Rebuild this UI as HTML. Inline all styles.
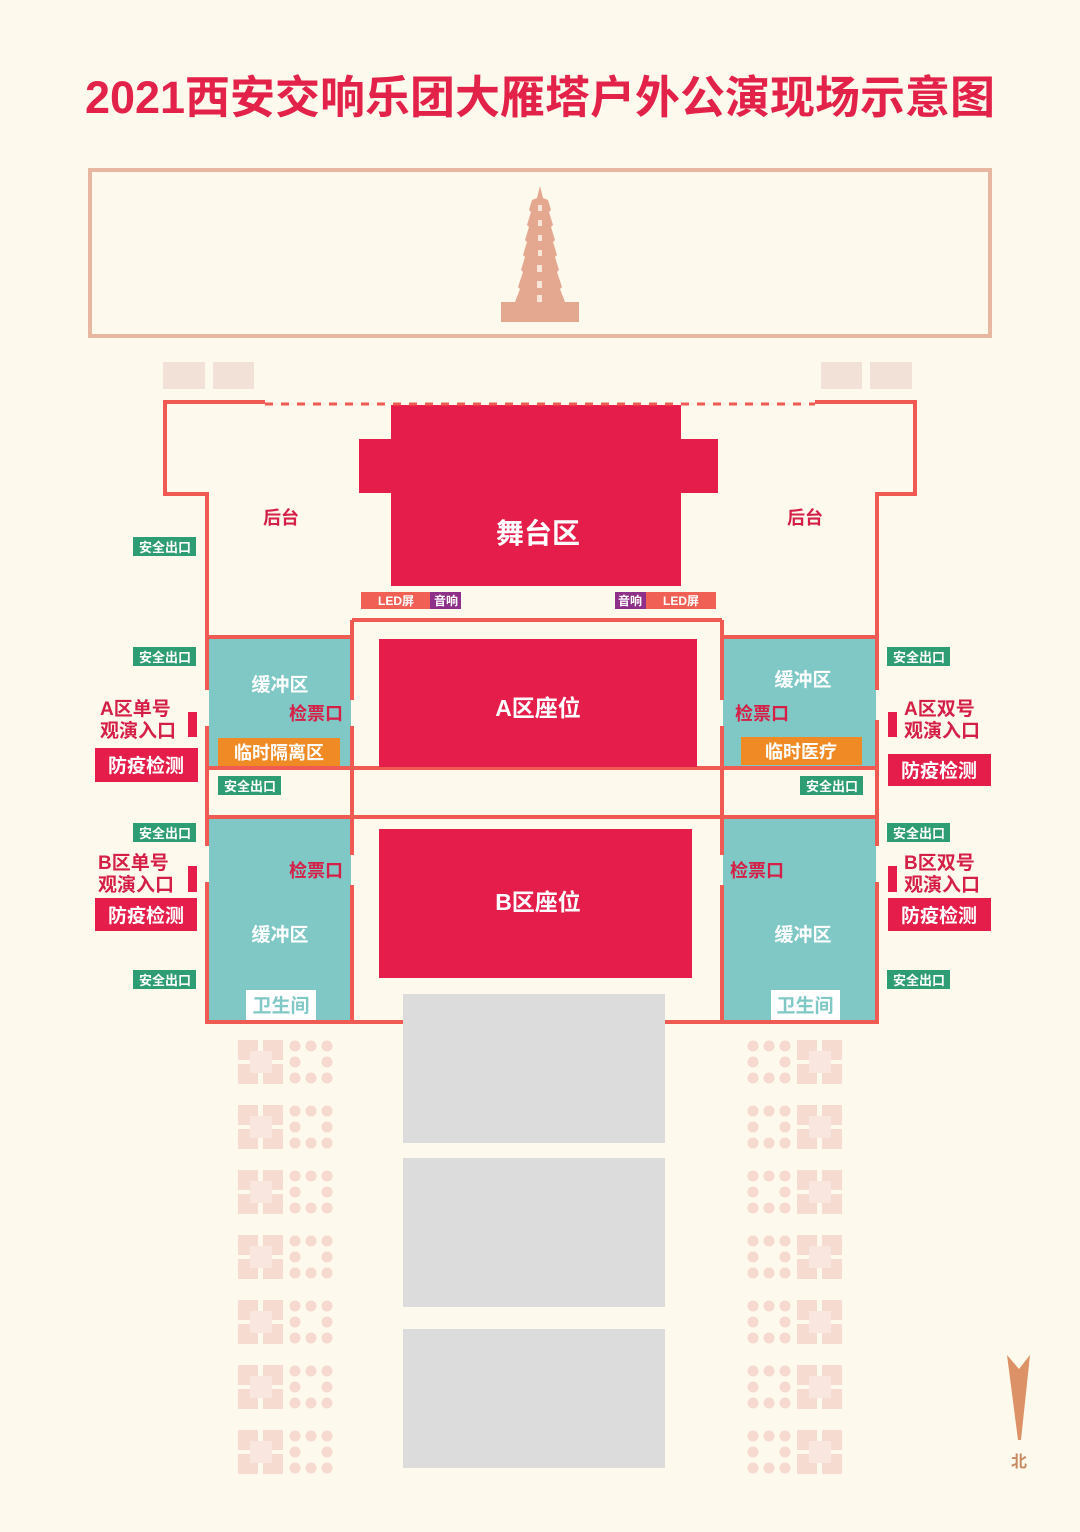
<!DOCTYPE html>
<html><head><meta charset="utf-8"><style>
html,body{margin:0;padding:0;background:#fdf9ec;}
svg text{font-family:"Liberation Sans","Noto Sans CJK SC",sans-serif;font-weight:bold;}
</style></head><body>
<svg width="1080" height="1527" viewBox="0 0 1080 1527" xmlns="http://www.w3.org/2000/svg">
<rect width="1080" height="1527" fill="#fdf9ec"/>
<defs>
<g id="sq"><rect x="0" y="0" width="20" height="20" fill="#f6dbd1"/><rect x="25" y="0" width="20" height="20" fill="#f6dbd1"/><rect x="0" y="24" width="20" height="20" fill="#f6dbd1"/><rect x="25" y="24" width="20" height="20" fill="#f6dbd1"/><rect x="12" y="11" width="22" height="22" fill="#f9e6df"/></g>
<g id="dt" fill="#f6d9cf"><circle cx="5" cy="5" r="5.5"/><circle cx="21" cy="5" r="5.5"/><circle cx="37" cy="5" r="5.5"/><circle cx="5" cy="21" r="5.5"/><circle cx="37" cy="21" r="5.5"/><circle cx="5" cy="37" r="5.5"/><circle cx="21" cy="37" r="5.5"/><circle cx="37" cy="37" r="5.5"/></g>
</defs>
<text x="540" y="113" font-size="45" fill="#e3224a" text-anchor="middle">2021西安交响乐团大雁塔户外公演现场示意图</text>
<rect x="90" y="170" width="900" height="166" fill="none" stroke="#e8b7a2" stroke-width="4"/>
<!-- pagoda -->
<g fill="#e3a88f">
<rect x="501" y="302" width="78" height="20"/>
<polygon points="540,186 543,198 548,200 551,210 549,212 553,225 551,227 555,240 553,242 557,255 555,257 559,270 557,272 562,287 560,289 565,302 515,302 520,289 518,287 523,272 521,270 525,257 523,255 527,242 525,240 529,227 527,225 531,212 529,210 532,200 537,198"/>
</g>
<g fill="#f7e6d8"><rect x="538" y="205" width="4" height="6"/><rect x="538" y="220" width="4" height="6"/><rect x="538" y="235" width="4" height="6"/><rect x="538" y="250" width="4" height="6"/><rect x="537" y="265" width="5" height="7"/><rect x="537" y="281" width="5" height="7"/><rect x="537" y="295" width="5" height="7"/></g>
<g fill="#f1e1d6"><rect x="163" y="362" width="42" height="27"/><rect x="213" y="362" width="41" height="27"/><rect x="821" y="362" width="41" height="27"/><rect x="870" y="362" width="42" height="27"/></g>
<!-- stage -->
<g fill="#e41d4a"><rect x="391" y="405" width="290" height="181"/><rect x="359" y="439" width="34" height="54"/><rect x="679" y="439" width="39" height="54"/></g>
<text x="538" y="543" font-size="28" fill="#fff" text-anchor="middle">舞台区</text>
<!-- teal areas -->
<g fill="#80c8c5"><rect x="209" y="639" width="142" height="129"/><rect x="209" y="819" width="142" height="202"/><rect x="723" y="639" width="153" height="129"/><rect x="723" y="819" width="153" height="202"/></g>
<!-- walls -->
<g stroke="#ef5b52" stroke-width="4" fill="none">
<polyline points="265,402 165,402 165,494 207,494 207,690"/>
<polyline points="207,726 207,846"/>
<polyline points="207,882 207,1022 877,1022 877,882"/>
<polyline points="877,846 877,720"/>
<polyline points="877,690 877,494 915,494 915,402 815,402"/>
<line x1="265" y1="404" x2="815" y2="404" stroke-dasharray="8,8" stroke-width="3"/>
<line x1="207" y1="637" x2="352" y2="637"/><line x1="722" y1="637" x2="877" y2="637"/>
<polyline points="352,620 722,620"/>
<line x1="352" y1="620" x2="352" y2="700"/><line x1="352" y1="726" x2="352" y2="855"/><line x1="352" y1="885" x2="352" y2="1022"/>
<line x1="722" y1="620" x2="722" y2="700"/><line x1="722" y1="726" x2="722" y2="855"/><line x1="722" y1="885" x2="722" y2="1022"/>
<line x1="207" y1="768" x2="877" y2="768"/><line x1="207" y1="817" x2="877" y2="817"/>
</g>
<!-- LED -->
<rect x="361" y="592" width="69" height="17" fill="#f06055"/><rect x="430" y="592" width="31" height="17" fill="#8e2f8a"/>
<rect x="615" y="592" width="31" height="17" fill="#8e2f8a"/><rect x="646" y="592" width="70" height="17" fill="#f06055"/>
<g font-size="12" fill="#fff" text-anchor="middle"><text x="396" y="605">LED屏</text><text x="446" y="605">音响</text><text x="630" y="605">音响</text><text x="681" y="605">LED屏</text></g>
<!-- seats -->
<rect x="379" y="639" width="318" height="128" fill="#e41d4a"/>
<rect x="379" y="829" width="313" height="149" fill="#e41d4a"/>
<g font-size="23" fill="#fff" text-anchor="middle"><text x="538" y="716">A区座位</text><text x="538" y="910">B区座位</text></g>
<g fill="#dcdcdc"><rect x="403" y="994" width="262" height="149"/><rect x="403" y="1158" width="262" height="149"/><rect x="403" y="1329" width="262" height="139"/></g>
<!-- text labels -->
<g font-size="18" fill="#d51f47" text-anchor="middle"><text x="281" y="524">后台</text><text x="805" y="524">后台</text>
<text x="316" y="720">检票口</text><text x="762" y="720">检票口</text><text x="316" y="877">检票口</text><text x="757" y="877">检票口</text></g>
<g font-size="19" fill="#fff" text-anchor="middle" font-weight="normal"><text x="280" y="691">缓冲区</text><text x="803" y="686">缓冲区</text><text x="280" y="941">缓冲区</text><text x="803" y="941">缓冲区</text></g>
<!-- orange -->
<rect x="218" y="738" width="122" height="28" fill="#f08a24"/><rect x="741" y="737" width="121" height="28" fill="#f08a24"/>
<g font-size="18" fill="#fff" text-anchor="middle"><text x="279" y="759">临时隔离区</text><text x="801" y="758">临时医疗</text></g>
<!-- toilets -->
<rect x="246" y="990" width="70" height="30" fill="#fff"/><rect x="771" y="990" width="69" height="30" fill="#fff"/>
<g font-size="19" fill="#80c8c5" text-anchor="middle"><text x="281" y="1012">卫生间</text><text x="805" y="1012">卫生间</text></g>
<!-- safety exits -->
<g fill="#2f9d74"><rect x="133" y="537" width="63" height="19"/><rect x="133" y="647" width="63" height="19"/><rect x="133" y="823" width="63" height="19"/><rect x="133" y="970" width="63" height="19"/><rect x="218" y="776" width="63" height="19"/><rect x="887" y="647" width="63" height="19"/><rect x="887" y="823" width="63" height="19"/><rect x="887" y="970" width="63" height="19"/><rect x="800" y="776" width="63" height="19"/></g>
<g font-size="13" fill="#fff" text-anchor="middle"><text x="165" y="552">安全出口</text><text x="165" y="662">安全出口</text><text x="165" y="838">安全出口</text><text x="165" y="985">安全出口</text><text x="250" y="791">安全出口</text><text x="919" y="662">安全出口</text><text x="919" y="838">安全出口</text><text x="919" y="985">安全出口</text><text x="832" y="791">安全出口</text></g>
<!-- entrances -->
<g fill="#e41d4a"><rect x="188" y="712" width="9" height="25"/><rect x="188" y="866" width="9" height="26"/><rect x="888" y="712" width="9" height="25"/><rect x="888" y="866" width="9" height="26"/>
<rect x="95" y="748" width="103" height="34"/><rect x="95" y="898" width="102" height="33"/><rect x="888" y="754" width="103" height="32"/><rect x="888" y="898" width="103" height="33"/></g>
<g font-size="19" fill="#d51f47"><text x="100" y="715">A区单号</text><text x="100" y="737">观演入口</text><text x="98" y="869">B区单号</text><text x="98" y="891">观演入口</text>
<text x="904" y="715">A区双号</text><text x="904" y="737">观演入口</text><text x="904" y="869">B区双号</text><text x="904" y="891">观演入口</text></g>
<g font-size="19" fill="#fff" text-anchor="middle" font-weight="normal"><text x="146" y="772">防疫检测</text><text x="146" y="922">防疫检测</text><text x="939" y="777">防疫检测</text><text x="939" y="922">防疫检测</text></g>
<!-- decor -->
<g>
<use href="#sq" x="238" y="1040"/><use href="#dt" x="290" y="1041"/><use href="#dt" x="748" y="1041"/><use href="#sq" x="797" y="1040"/>
<use href="#sq" x="238" y="1105"/><use href="#dt" x="290" y="1106"/><use href="#dt" x="748" y="1106"/><use href="#sq" x="797" y="1105"/>
<use href="#sq" x="238" y="1170"/><use href="#dt" x="290" y="1171"/><use href="#dt" x="748" y="1171"/><use href="#sq" x="797" y="1170"/>
<use href="#sq" x="238" y="1235"/><use href="#dt" x="290" y="1236"/><use href="#dt" x="748" y="1236"/><use href="#sq" x="797" y="1235"/>
<use href="#sq" x="238" y="1300"/><use href="#dt" x="290" y="1301"/><use href="#dt" x="748" y="1301"/><use href="#sq" x="797" y="1300"/>
<use href="#sq" x="238" y="1365"/><use href="#dt" x="290" y="1366"/><use href="#dt" x="748" y="1366"/><use href="#sq" x="797" y="1365"/>
<use href="#sq" x="238" y="1430"/><use href="#dt" x="290" y="1431"/><use href="#dt" x="748" y="1431"/><use href="#sq" x="797" y="1430"/>
</g>
<!-- north -->
<polygon points="1007,1355 1019,1369 1030,1355 1021,1440 1018,1440" fill="#dc9266"/>
<text x="1019" y="1467" font-size="16" fill="#c98a64" text-anchor="middle">北</text>
</svg>
</body></html>
